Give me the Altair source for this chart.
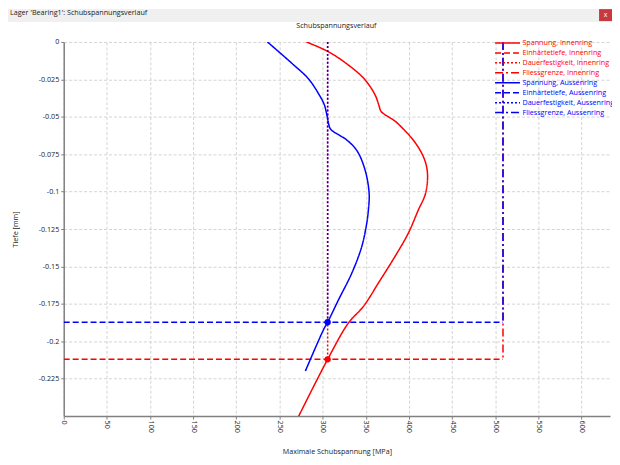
import altair as alt
import pandas as pd

FONT = "Open Sans"
FS = 7.2

series_names = [
    "Spannung, Innenring", "Einhärtetiefe, Innenring", "Dauerfestigkeit, Innenring", "Fliessgrenze, Innenring",
    "Spannung, Aussenring", "Einhärtetiefe, Aussenring", "Dauerfestigkeit, Aussenring", "Fliessgrenze, Aussenring",
]
series_colors = ["#ff0000"] * 4 + ["#0000ff"] * 4
series_dashes = [[1, 0], [6, 3], [2, 2], [8, 3, 2, 3]] * 2
series_widths = [1.5, 1.5, 1.5, 1.5, 1.5, 1.5, 2, 2]

# Spannung, Innenring (MPa, mm)
inner_stress_mpa = [281.2, 306.9, 330.0, 348.4, 360.8, 365.0, 367.5, 372.0, 376.0, 384.0, 391.5, 406.9,
                    417.7, 421.5, 419.2, 410.8, 399.2, 383.8, 364.6, 347.3, 330.0, 305.8, 272.3]
inner_depth_mm = [0.0, -0.0066, -0.0155, -0.0248, -0.0354, -0.0420, -0.0462, -0.0485, -0.0499, -0.0530,
                  -0.0570, -0.0670, -0.0780, -0.0880, -0.1013, -0.1124, -0.1279, -0.1434, -0.1611, -0.1767,
                  -0.1877, -0.2121, -0.2500]

# Spannung, Aussenring (MPa, mm)
outer_stress_mpa = [236.0, 264.6, 283.8, 297.3, 302.0, 305.0, 307.5, 309.5, 320.4, 326.2, 339.6, 349.3,
                    353.9, 353.0, 351.1, 345.3, 333.8, 318.5, 305.8, 301.1, 280.0]
outer_depth_mm = [0.0, -0.0144, -0.0248, -0.0366, -0.0420, -0.0490, -0.0560, -0.0585, -0.0627, -0.0647,
                  -0.0725, -0.0858, -0.1013, -0.1124, -0.1212, -0.1368, -0.1545, -0.1722, -0.1873, -0.1922,
                  -0.2199]

ring_names = ["Innenring", "Aussenring"]
ring_colors = ["#ff0000", "#0000ff"]
hardening_depth_mm = [-0.2121, -0.1873]   # Einhärtetiefe
fatigue_limit_mpa = [305.8, 305.8]        # Dauerfestigkeit
yield_limit_mpa = [509.0, 509.0]          # Fliessgrenze

x_ticks = [0, 50, 100, 150, 200, 250, 300, 350, 400, 450, 500, 550, 600]
y_ticks = [0, -0.025, -0.05, -0.075, -0.1, -0.125, -0.15, -0.175, -0.2, -0.225]

stress = {"Innenring": (inner_stress_mpa, inner_depth_mm), "Aussenring": (outer_stress_mpa, outer_depth_mm)}
rows = []


def add(name, ring, xs, ys):
    for i, (xv, yv) in enumerate(zip(xs, ys)):
        rows.append({"series": name, "ring": ring, "mpa": xv, "depth": yv, "idx": i})


for k, ring in enumerate(ring_names):
    xs, ys = stress[ring]
    add(f"Spannung, {ring}", ring, xs, ys)
    add(f"Einhärtetiefe, {ring}", ring, [0, yield_limit_mpa[k]], [hardening_depth_mm[k]] * 2)
    add(f"Dauerfestigkeit, {ring}", ring, [fatigue_limit_mpa[k]] * 2, [0, hardening_depth_mm[k]])
    add(f"Fliessgrenze, {ring}", ring, [yield_limit_mpa[k]] * 2, [0, hardening_depth_mm[k]])

df = pd.DataFrame(rows)
pts = pd.DataFrame({"mpa": fatigue_limit_mpa, "depth": hardening_depth_mm, "col": ring_colors})

xscale = alt.Scale(domain=[0, 633], nice=False, zero=False)
yscale = alt.Scale(domain=[-0.25, 0], nice=False, zero=False)

xaxis = alt.Axis(values=x_ticks, labelAngle=90, title="Maximale Schubspannung [MPa]",
                 labelPadding=1, titlePadding=15)
yaxis = alt.Axis(values=y_ticks, title="Tiefe [mm]", titlePadding=19, labelPadding=2,
                 labelExpr="datum.value == 0 ? '0' : '-' + format(-datum.value, '~g')")

legend = alt.Legend(
    title=None, orient="none", legendX=440, legendY=-5,
    symbolType="M-2.5,0H2.5", symbolSize=100, symbolStrokeWidth=1.5, symbolFillColor="transparent",
    labelFont=FONT, labelFontSize=7.2, labelOffset=9, rowPadding=0, labelLimit=200,
    labelColor={"expr": "indexof(datum.label, 'Innenring') >= 0 ? '#ff0000' : '#0000ff'"},
)


def ring_lines(ring):
    return alt.Chart(df[df["ring"] == ring]).mark_line(clip=True, interpolate="catmull-rom").encode(
        x=alt.X("mpa:Q", scale=xscale, axis=xaxis),
        y=alt.Y("depth:Q", scale=yscale, axis=yaxis),
        color=alt.Color("series:N", scale=alt.Scale(domain=series_names, range=series_colors), legend=legend),
        strokeDash=alt.StrokeDash("series:N", scale=alt.Scale(domain=series_names, range=series_dashes),
                                  legend=legend),
        strokeWidth=alt.StrokeWidth("series:N", scale=alt.Scale(domain=series_names, range=series_widths),
                                    legend=None),
        order="idx:Q",
    )


points = alt.Chart(pts).mark_circle(size=40, opacity=1).encode(
    x=alt.X("mpa:Q", scale=xscale),
    y=alt.Y("depth:Q", scale=yscale),
    color=alt.Color("col:N", scale=None),
)

one = pd.DataFrame({"k": [0]})
bar = alt.Chart(one).mark_rect(color="#f0f0f0").encode(
    x=alt.value(-56), x2=alt.value(551), y=alt.value(-33), y2=alt.value(-20))
close_btn = alt.Chart(one).mark_rect(color="#c8383c").encode(
    x=alt.value(538), x2=alt.value(551), y=alt.value(-33), y2=alt.value(-21))
close_x = alt.Chart(one).mark_text(text="x", color="white", fontSize=7, font=FONT).encode(
    x=alt.value(544.5), y=alt.value(-27.5))
win_title = alt.Chart(one).mark_text(text="Lager 'Bearing1': Schubspannungsverlauf", align="left",
                                     baseline="middle", color="#222", fontSize=FS, font=FONT).encode(
    x=alt.value(-54), y=alt.value(-29))
plot_title = alt.Chart(one).mark_text(text="Schubspannungsverlauf", align="center",
                                      baseline="middle", color="#222", fontSize=FS, font=FONT).encode(
    x=alt.value(274), y=alt.value(-16))

chart = alt.layer(bar, close_btn, close_x, win_title, plot_title,
                  ring_lines("Innenring"), ring_lines("Aussenring"), points).properties(
    width=549, height=376,
    autosize=alt.AutoSizeParams(type="none"),
    padding={"left": 56, "top": 33, "right": 2, "bottom": 39},
).configure_view(stroke=None).configure_axis(
    domainColor="#808080", domainWidth=1.5, tickColor="#808080", tickSize=3,
    gridColor="#d4d4d4", gridDash=[3, 2], gridWidth=1,
    labelFont=FONT, labelFontSize=FS, labelColor="#222",
    titleFont=FONT, titleFontSize=FS, titleFontWeight="normal", titleColor="#222",
)

chart.save("out.html", embed_options={"renderer": "svg", "actions": False})
